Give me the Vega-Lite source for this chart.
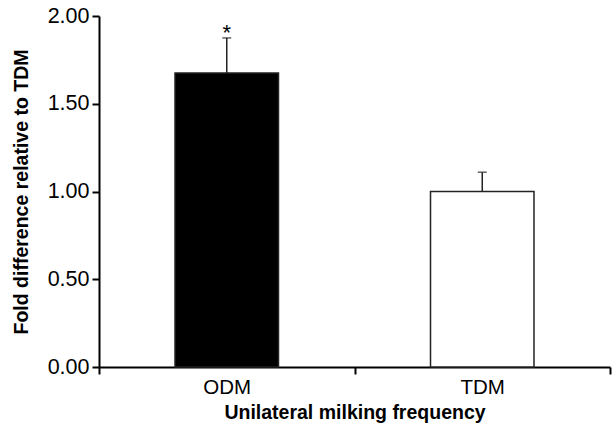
{
  "$schema": "https://vega.github.io/schema/vega-lite/v6.json",
  "width": 511,
  "height": 351,
  "autosize": "none",
  "padding": {"left": 99, "top": 16, "right": 3, "bottom": 58},
  "background": "white",
  "config": {
    "view": {"stroke": null},
    "font": "Liberation Sans"
  },
  "data": {
    "values": [
      {"group": "ODM", "value": 1.675, "upper": 1.875, "sig": "*"},
      {"group": "TDM", "value": 1.0, "upper": 1.11, "sig": ""}
    ]
  },
  "encoding": {
    "x": {
      "field": "group",
      "type": "nominal",
      "sort": ["ODM", "TDM"],
      "scale": {"paddingInner": 0, "paddingOuter": 0},
      "axis": {
        "title": "Unilateral milking frequency",
        "titleFont": "Liberation Sans",
        "titleFontSize": 19.5,
        "titleFontWeight": "bold",
        "titleColor": "black",
        "titlePadding": 6,
        "labelAngle": 0,
        "labelFont": "Liberation Sans",
        "labelFontSize": 20.5,
        "labelColor": "black",
        "labelPadding": 3,
        "tickBand": "extent",
        "tickSize": 7,
        "tickWidth": 2,
        "tickColor": "black",
        "domainColor": "black",
        "domainWidth": 2,
        "grid": false
      }
    }
  },
  "layer": [
    {
      "mark": {"type": "bar", "stroke": "#222222", "strokeWidth": 1.5, "width": {"band": 0.405}},
      "encoding": {
        "y": {
          "field": "value",
          "type": "quantitative",
          "scale": {"domain": [0, 2], "nice": false},
          "axis": {
            "title": "Fold difference relative to TDM",
            "titleFont": "Liberation Sans",
            "titleFontSize": 19.5,
            "titleFontWeight": "bold",
            "titleColor": "black",
            "titlePadding": 16,
            "values": [0, 0.5, 1, 1.5, 2],
            "format": ".2f",
            "labelFont": "Liberation Sans",
            "labelFontSize": 21.5,
            "labelColor": "black",
            "labelPadding": 3,
            "tickSize": 7,
            "tickWidth": 2,
            "tickColor": "black",
            "domainColor": "black",
            "domainWidth": 2,
            "grid": false
          }
        },
        "fill": {
          "field": "group",
          "type": "nominal",
          "scale": {"domain": ["ODM", "TDM"], "range": ["black", "white"]},
          "legend": null
        }
      }
    },
    {
      "mark": {"type": "rule", "color": "#222222", "strokeWidth": 1.5},
      "encoding": {
        "y": {"field": "value", "type": "quantitative"},
        "y2": {"field": "upper"}
      }
    },
    {
      "mark": {"type": "tick", "color": "#222222", "thickness": 1.5, "size": 9},
      "encoding": {
        "y": {"field": "upper", "type": "quantitative"}
      }
    },
    {
      "mark": {"type": "text", "baseline": "alphabetic", "dy": 2, "fontSize": 22, "font": "Liberation Sans", "color": "black"},
      "encoding": {
        "y": {"field": "upper", "type": "quantitative"},
        "text": {"field": "sig"}
      }
    }
  ]
}
